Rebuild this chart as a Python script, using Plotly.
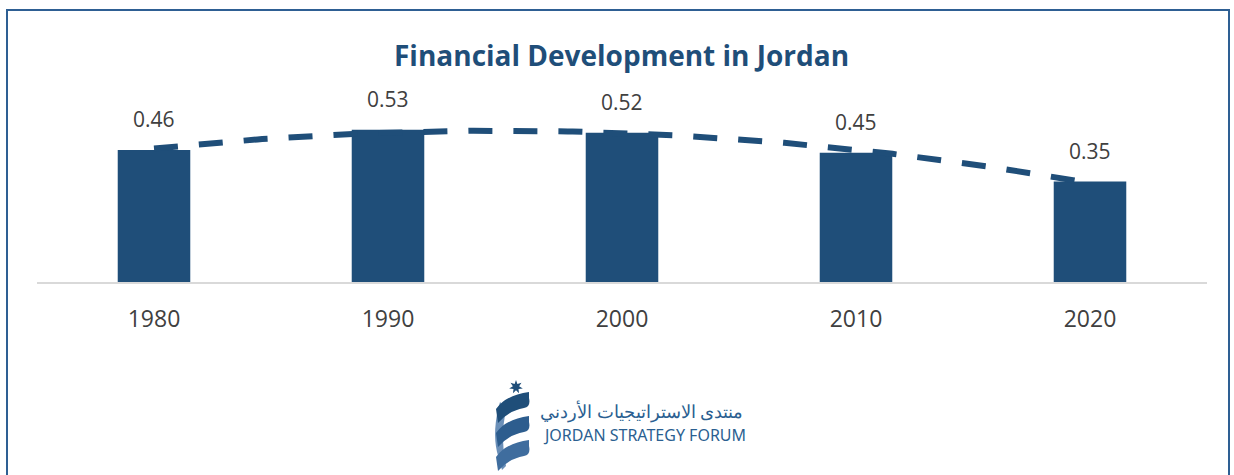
import numpy as np
import plotly.graph_objects as go

years = ["1980", "1990", "2000", "2010", "2020"]
values = [0.46, 0.53, 0.52, 0.45, 0.35]
labels = ["0.46", "0.53", "0.52", "0.45", "0.35"]
title_text = "Financial Development in Jordan"
logo_ar = "منتدى الاستراتيجيات الأردني"
logo_en = "JORDAN STRATEGY FORUM"

W, H = 1234, 475
L, R, T, B = 37, 27, 81, 193
PW, PH = W - L - R, H - T - B

def px(x):
    return (x - L) / PW

def py(y):
    return (H - B - y) / PH

BLUE = "#1f4e79"
GREY = "#404040"
LOGO = "#2b5f91"

xs = list(range(len(years)))
coef = np.polyfit(xs, values, 2)
xt = np.linspace(0, len(years) - 1, 200)
yt = np.polyval(coef, xt)

fig = go.Figure()
fig.add_trace(go.Bar(x=xs, y=values, width=0.31, marker=dict(color=BLUE, line=dict(width=0)),
                     hoverinfo="skip"))
fig.add_trace(go.Scatter(x=xt, y=yt, mode="lines",
                         line=dict(color=BLUE, width=6, dash="24px,21px"), hoverinfo="skip"))

ann = []
for x, v, t in zip(xs, values, labels):
    ann.append(dict(x=x, y=v, xref="x", yref="y", text=t, showarrow=False,
                    yanchor="bottom", yshift=15,
                    font=dict(family="Open Sans", size=21, color=GREY)))

ann.append(dict(x=px(621), y=py(55), xref="paper", yref="paper", yanchor="middle",
                text="<b>" + title_text + "</b>", showarrow=False,
                font=dict(family="Open Sans", size=28, color=BLUE)))

ann.append(dict(x=px(745), y=py(411), xref="paper", yref="paper", xanchor="right",
                yanchor="middle", text=logo_ar, showarrow=False,
                font=dict(family="Noto Sans", size=18, color=LOGO)))
ann.append(dict(x=px(541), y=py(435), xref="paper", yref="paper", xanchor="left",
                yanchor="middle", text=logo_en, showarrow=False,
                font=dict(family="Noto Sans", size=16, color=LOGO)))

shapes = []
# frame border (open at bottom)
shapes.append(dict(type="path", xref="paper", yref="paper",
                   path=f"M {px(7)},{py(480)} L {px(7)},{py(10)} L {px(1229)},{py(10)} L {px(1229)},{py(480)}",
                   line=dict(color="#2e5f93", width=2)))

# logo star (7-point)
cx, cy, r1, r2 = 516, 387, 7, 3.2
pts = []
for k in range(14):
    a = -np.pi / 2 + k * np.pi / 7
    r = r1 if k % 2 == 0 else r2
    pts.append((px(cx + r * np.cos(a)), py(cy + r * np.sin(a))))
path = "M " + " L ".join(f"{a},{b}" for a, b in pts) + " Z"
shapes.append(dict(type="path", xref="paper", yref="paper", path=path,
                   fillcolor=BLUE, line=dict(width=0)))

def pth(cmds):
    s = ""
    for cmd, cs in cmds:
        s += cmd + " " + " ".join(f"{px(a)},{py(b)}" for a, b in cs) + " "
    return s.strip()

# spine / tail
shapes.append(dict(type="path", xref="paper", yref="paper",
                   path=pth([("M", [(500, 402)]), ("Q", [(492, 430), (497, 452)]),
                             ("Q", [(500, 462), (502, 470)]), ("L", [(506, 466)]),
                             ("Q", [(500, 440), (506, 408)]), ("Z", [])]),
                   fillcolor="#6a8fb8", line=dict(width=0)))
# ribbons
band_cols = ["#1f4e79", "#2d5d8e", "#3f6d9e"]
for i, col in enumerate(band_cols):
    y0 = 392 + i * 24
    shapes.append(dict(type="path", xref="paper", yref="paper",
                       path=pth([("M", [(496, y0 + 17)]),
                                 ("Q", [(506, y0 + 3), (529, y0)]),
                                 ("L", [(529, y0 + 6)]),
                                 ("Q", [(531, y0 + 15), (524, y0 + 16)]),
                                 ("Q", [(508, y0 + 19), (498, y0 + 31)]),
                                 ("Z", [])]),
                       fillcolor=col, line=dict(width=0)))

fig.update_layout(
    width=W, height=H,
    margin=dict(l=L, r=R, t=T, b=B),
    plot_bgcolor="white", paper_bgcolor="white",
    showlegend=False,
    xaxis=dict(range=[-0.5, len(years) - 0.5], tickvals=xs, ticktext=years,
               showgrid=False, zeroline=False, showline=True, linecolor="#d9d9d9",
               linewidth=1.5, ticks="", ticklabelstandoff=16,
               tickfont=dict(family="Open Sans", size=23, color=GREY), fixedrange=True),
    yaxis=dict(range=[0, 0.7], showgrid=False, zeroline=False, showline=False,
               showticklabels=False, fixedrange=True),
    annotations=ann,
    shapes=shapes,
)

fig.write_html("out.html", config={"displayModeBar": False},
               post_script="document.body.style.margin='0';document.body.style.overflow='hidden';")
